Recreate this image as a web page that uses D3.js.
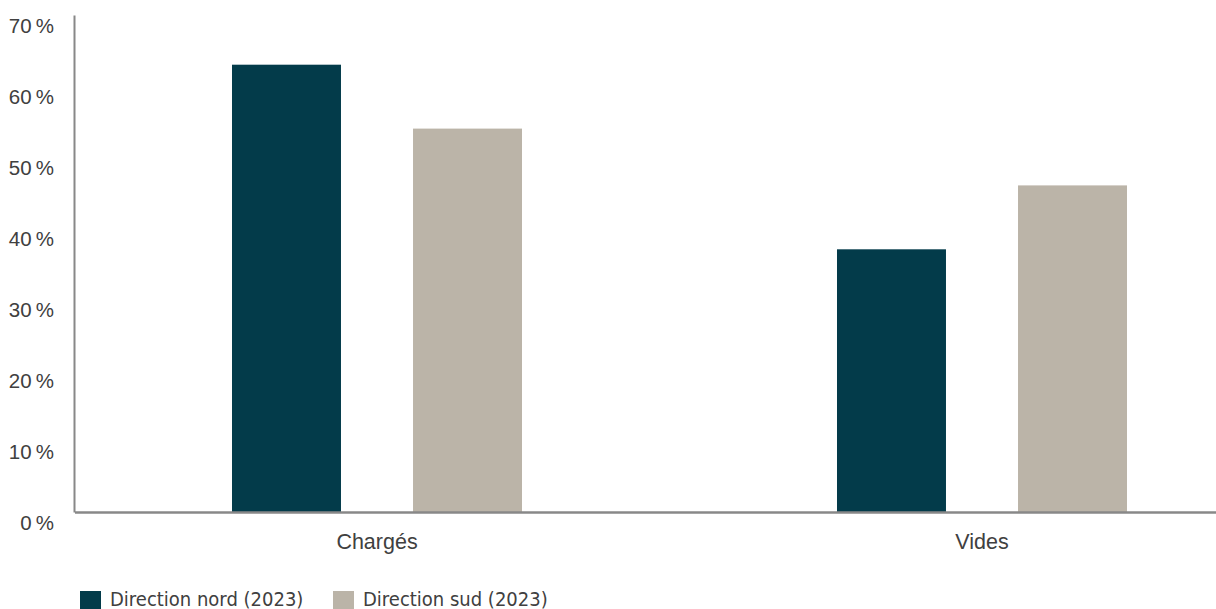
<!DOCTYPE html>
<html>
<head>
<meta charset="utf-8">
<script src="https://cdn.jsdelivr.net/npm/d3@7"></script>
<style>
  html, body { margin: 0; padding: 0; background: #fff; }
  svg { display: block; font-family: "Liberation Sans Narrow", "DejaVu Sans Condensed", sans-serif; }
</style>
</head>
<body>
<div id="chart"></div>
<script>
// data
const categories = ["Chargés", "Vides"];
const seriesNames = ["Direction nord (2023)", "Direction sud (2023)"];
const seriesColors = ["#033b4a", "#bbb4a8"];
const nordValues = [63, 37];
const sudValues = [54, 46];
const yTicks = [0, 10, 20, 30, 40, 50, 60, 70];

const W = 1216, H = 609;
const svg = d3.select("#chart").append("svg")
    .attr("width", W)
    .attr("height", H);

const rows = categories.map((c, i) => ({ cat: c, values: [nordValues[i], sudValues[i]] }));

// scales
const x0 = d3.scaleBand()
    .domain(categories)
    .range([74.5, 1284.5]);

const x1 = d3.scaleBand()
    .domain(seriesNames)
    .range([0, x0.bandwidth()])
    .paddingInner(0.398)
    .paddingOuter(0.87);

const y = d3.scaleLinear()
    .domain([0, 70])
    .range([512, 15]);

// bars
const groups = svg.selectAll(".group")
    .data(rows)
    .enter()
    .append("g")
    .attr("class", "group")
    .attr("transform", d => `translate(${x0(d.cat)}, 0)`);

groups.selectAll("rect")
    .data(d => d.values.map((v, i) => ({ name: seriesNames[i], value: v, color: seriesColors[i] })))
    .enter()
    .append("rect")
    .attr("x", d => x1(d.name))
    .attr("width", x1.bandwidth())
    .attr("y", d => y(d.value))
    .attr("height", d => y(0) - y(d.value))
    .attr("fill", d => d.color);

// y axis
const yAxis = svg.append("g")
    .attr("class", "axis y-axis")
    .attr("transform", "translate(74, 0)")
    .call(d3.axisLeft(y).tickValues(yTicks).tickSize(0).tickPadding(20)
        .tickFormat(d => d + "\u202f%"));

yAxis.select(".domain").attr("stroke", "#888").attr("stroke-width", 2);
yAxis.selectAll("text")
    .attr("dy", "17px")
    .style("font-size", "20.5px")
    .attr("fill", "#404040");

// x axis
const xAxis = svg.append("g")
    .attr("class", "axis x-axis")
    .attr("transform", "translate(0, 512)")
    .call(d3.axisBottom(x0).tickSize(0));

xAxis.select(".domain").attr("stroke", "#888").attr("stroke-width", 2.5);
xAxis.selectAll("text")
    .attr("y", 37)
    .attr("dy", 0)
    .style("font-size", "21.5px")
    .attr("fill", "#404040");

// legend
const legend = svg.append("g")
    .attr("class", "legend")
    .attr("transform", "translate(80, 591)");

const legendX = [0, 253];
const items = legend.selectAll(".item")
    .data(seriesNames)
    .enter()
    .append("g")
    .attr("class", "item")
    .attr("transform", (d, i) => `translate(${legendX[i]}, 0)`);

items.append("rect")
    .attr("width", 21)
    .attr("height", 21)
    .attr("fill", (d, i) => seriesColors[i]);

items.append("text")
    .attr("x", 30)
    .attr("y", 15)
    .style("font-size", "20px")
    .attr("fill", "#404040")
    .text(d => d);
</script>
</body>
</html>
